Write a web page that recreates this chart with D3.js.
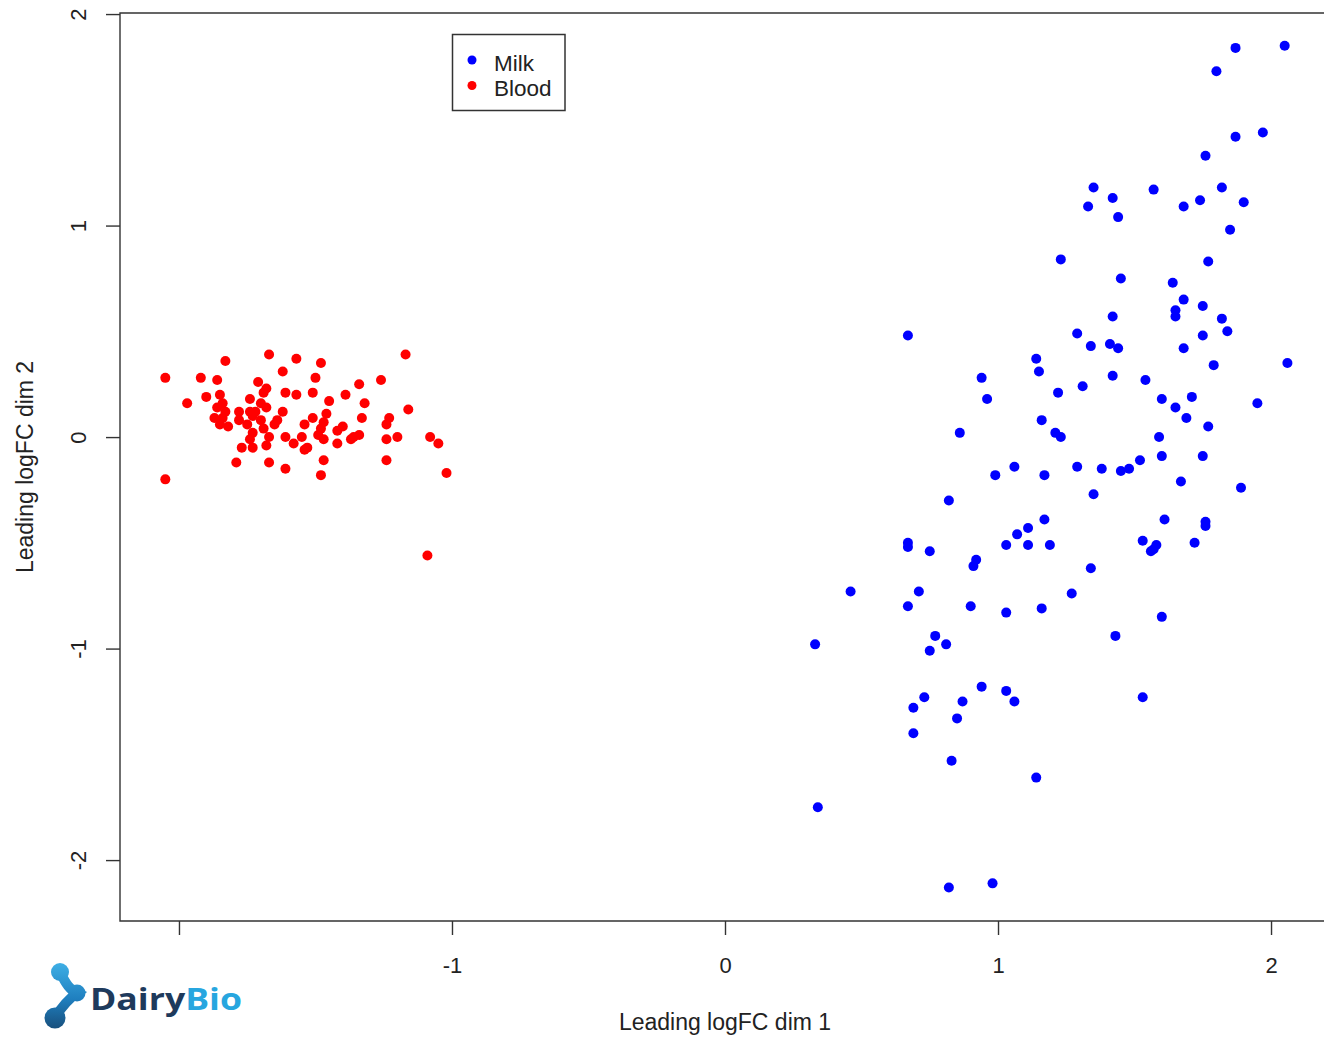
<!DOCTYPE html>
<html lang="en">
<head>
<meta charset="UTF-8">
<title>MDS plot</title>
<script src="https://cdn.jsdelivr.net/npm/d3@7"></script>
<style>
    body { margin: 0; background: #fff; }
    svg { display: block; font-family: "Liberation Sans", Arial, sans-serif; }
</style>
</head>
<body>
<script>
// size of the page
var w = 1324;
var h = 1037;

// tick values
var xTicks = [-2, -1, 0, 1, 2];
var yTicks = [-2, -1, 0, 1, 2];

// legend
var groups = ["Milk", "Blood"];
var groupColors = ["#0000ff", "#ff0000"];

// [dim 1, dim 2]
var milkPoints = [
    [0.67,0.48],[1.14,0.37],[1.15,0.31],[0.94,0.28],[0.96,0.18],[1.22,0.21],[0.86,0.02],[1.16,0.08],
    [1.21,0.02],[1.06,-0.14],[0.99,-0.18],[1.17,-0.18],[0.82,-0.30],[1.17,-0.39],[1.11,-0.43],[1.07,-0.46],
    [0.67,-0.50],[0.67,-0.52],[0.75,-0.54],[1.03,-0.51],[1.11,-0.51],[1.19,-0.51],[0.92,-0.58],[0.91,-0.61],
    [0.46,-0.73],[0.71,-0.73],[0.67,-0.80],[0.90,-0.80],[1.03,-0.83],[1.16,-0.81],
    [1.35,1.18],[1.42,1.13],[1.33,1.09],[1.44,1.04],[1.57,1.17],[1.68,1.09],[1.74,1.12],[1.82,1.18],
    [1.90,1.11],[1.85,0.98],[1.23,0.84],[1.77,0.83],[1.45,0.75],[1.64,0.73],[1.68,0.65],[1.65,0.60],
    [1.65,0.57],[1.75,0.62],[1.82,0.56],[1.84,0.50],[1.42,0.57],[1.29,0.49],[1.34,0.43],[1.41,0.44],
    [1.44,0.42],[1.75,0.48],[1.68,0.42],[1.79,0.34],[2.06,0.35],[1.42,0.29],[1.31,0.24],[1.54,0.27],
    [1.60,0.18],[1.71,0.19],[1.65,0.14],[1.95,0.16],[1.69,0.09],[1.77,0.05],[1.23,0.00],[1.59,0.00],
    [1.29,-0.14],[1.38,-0.15],[1.45,-0.16],[1.48,-0.15],[1.52,-0.11],[1.60,-0.09],[1.75,-0.09],[1.67,-0.21],
    [1.89,-0.24],[1.35,-0.27],[1.61,-0.39],[1.76,-0.40],[1.76,-0.42],[1.53,-0.49],[1.58,-0.51],[1.57,-0.53],
    [1.56,-0.54],[1.72,-0.50],[1.34,-0.62],[1.27,-0.74],[1.60,-0.85],[1.43,-0.94],
    [0.33,-0.98],[0.77,-0.94],[0.81,-0.98],[0.75,-1.01],[0.94,-1.18],[1.03,-1.20],[1.06,-1.25],[0.73,-1.23],
    [0.69,-1.28],[0.87,-1.25],[0.85,-1.33],[0.69,-1.40],[0.83,-1.53],[1.14,-1.61],[0.34,-1.75],[0.82,-2.13],
    [0.98,-2.11],[1.53,-1.23],
    [1.87,1.84],[2.05,1.85],[1.80,1.73],[1.97,1.44],[1.87,1.42],[1.76,1.33]
];

var bloodPoints = [
    [-2.05,0.28],[-2.05,-0.20],[-1.97,0.16],[-1.92,0.28],[-1.86,0.27],[-1.83,0.36],[-1.90,0.19],[-1.85,0.20],
    [-1.84,0.16],[-1.86,0.14],[-1.83,0.12],[-1.87,0.09],[-1.85,0.06],[-1.82,0.05],[-1.84,0.09],[-1.78,0.12],
    [-1.78,0.08],[-1.77,-0.05],[-1.79,-0.12],[-1.74,0.18],[-1.71,0.26],[-1.67,0.39],[-1.68,0.23],[-1.69,0.21],
    [-1.74,0.12],[-1.73,0.10],[-1.75,0.06],[-1.73,0.02],[-1.74,-0.01],[-1.73,-0.05],[-1.70,0.16],[-1.68,0.14],
    [-1.72,0.12],[-1.70,0.08],[-1.69,0.04],[-1.67,0.00],[-1.68,-0.04],[-1.67,-0.12],[-1.65,0.06],[-1.64,0.08],
    [-1.62,0.31],[-1.61,0.21],[-1.62,0.12],[-1.61,0.00],[-1.61,-0.15],[-1.57,0.37],[-1.57,0.20],[-1.54,0.06],
    [-1.55,0.00],[-1.58,-0.03],[-1.54,-0.06],[-1.53,-0.05],[-1.51,0.09],[-1.51,0.21],[-1.50,0.28],[-1.48,0.35],
    [-1.48,-0.18],[-1.47,-0.11],[-1.46,0.11],[-1.47,0.07],[-1.48,0.04],[-1.49,0.01],[-1.47,-0.01],[-1.45,0.17],
    [-1.42,-0.03],[-1.42,0.03],[-1.40,0.05],[-1.39,0.20],[-1.37,-0.01],[-1.36,0.00],[-1.34,0.01],[-1.34,0.25],
    [-1.33,0.09],[-1.32,0.16],[-1.26,0.27],[-1.23,0.09],[-1.24,0.06],[-1.24,-0.01],[-1.24,-0.11],[-1.20,0.00],
    [-1.17,0.39],[-1.16,0.13],[-1.08,0.00],[-1.05,-0.03],[-1.02,-0.17],[-1.09,-0.56]
];

// plot region (right edge runs past the page, like the original)
var plotLeft = 120, plotTop = 13, plotBottom = 921, plotRight = 1330;

var xScale = d3.scaleLinear()
    .domain([-2.216, 2.216])
    .range([plotLeft, plotRight]);

var yScale = d3.scaleLinear()
    .domain([-2.288, 2.005])
    .range([plotBottom, plotTop]);

var svg = d3.select("body")
    .append("svg")
    .attr("width", w)
    .attr("height", h);

// points
var series = [bloodPoints, milkPoints];
var seriesColors = [groupColors[1], groupColors[0]];
series.forEach(function(pts, i) {
    svg.append("g")
        .selectAll("circle")
        .data(pts)
        .enter()
        .append("circle")
        .attr("cx", function(d) { return xScale(d[0]); })
        .attr("cy", function(d) { return yScale(d[1]); })
        .attr("r", 5)
        .attr("fill", seriesColors[i]);
});

// box: top, left and bottom only, the right side is off the page
svg.append("path")
    .attr("d", "M" + (w + 5) + "," + plotTop + "H" + plotLeft + "V" + plotBottom + "H" + (w + 5))
    .attr("fill", "none")
    .attr("stroke", "#333")
    .attr("stroke-width", 1.4);

// x axis
var xAxis = svg.append("g")
    .attr("transform", "translate(0," + plotBottom + ")")
    .call(d3.axisBottom(xScale).tickValues(xTicks).tickSize(14).tickPadding(22));
xAxis.select(".domain").remove();
xAxis.selectAll("line").attr("stroke", "#333").attr("stroke-width", 1.4);
xAxis.selectAll("text")
    .attr("font-family", "Liberation Sans, Arial, sans-serif")
    .attr("font-size", "22px")
    .attr("fill", "#222")
    .text(function(d) { return d < 0 ? "-" + Math.abs(d) : d; });

// y axis, labels turned like R's default
var yAxis = svg.append("g")
    .attr("transform", "translate(" + plotLeft + ",0)")
    .call(d3.axisLeft(yScale).tickValues(yTicks).tickSize(14));
yAxis.select(".domain").remove();
yAxis.selectAll("line").attr("stroke", "#333").attr("stroke-width", 1.4);
yAxis.selectAll("text")
    .attr("x", null)
    .attr("dy", null)
    .attr("text-anchor", "middle")
    .attr("transform", "translate(-34,0) rotate(-90)")
    .attr("font-family", "Liberation Sans, Arial, sans-serif")
    .attr("font-size", "22px")
    .attr("fill", "#222")
    .text(function(d) { return d < 0 ? "-" + Math.abs(d) : d; });

// axis titles
svg.append("text")
    .attr("x", (plotLeft + plotRight) / 2)
    .attr("y", 1030)
    .attr("text-anchor", "middle")
    .attr("font-size", "23px")
    .attr("fill", "#222")
    .text("Leading logFC dim 1");

svg.append("text")
    .attr("transform", "translate(33," + (plotTop + plotBottom) / 2 + ") rotate(-90)")
    .attr("text-anchor", "middle")
    .attr("font-size", "23px")
    .attr("fill", "#222")
    .text("Leading logFC dim 2");

// legend
var legend = svg.append("g");
legend.append("rect")
    .attr("x", 452.5)
    .attr("y", 34.5)
    .attr("width", 112.5)
    .attr("height", 76)
    .attr("fill", "#fff")
    .attr("stroke", "#333")
    .attr("stroke-width", 1.5);

var items = legend.selectAll("g.item")
    .data(groups)
    .enter()
    .append("g")
    .attr("class", "item")
    .attr("transform", function(d, i) { return "translate(472," + (60 + i * 25.5) + ")"; });
items.append("circle")
    .attr("r", 4.5)
    .attr("fill", function(d, i) { return groupColors[i]; });
items.append("text")
    .attr("x", 22)
    .attr("y", 10.5)
    .attr("font-size", "22.5px")
    .attr("fill", "#222")
    .text(function(d) { return d; });

// DairyBio logo (sits on a white patch, hides the -2 label like the original)
var logo = svg.append("g");
logo.append("rect")
    .attr("x", 36).attr("y", 946)
    .attr("width", 220).attr("height", 88)
    .attr("fill", "#fff");

var defs = svg.append("defs");
var grad = defs.append("linearGradient")
    .attr("id", "logoGrad")
    .attr("gradientUnits", "userSpaceOnUse")
    .attr("x1", 0).attr("y1", 962).attr("x2", 0).attr("y2", 1029);
grad.append("stop").attr("offset", "0%").attr("stop-color", "#3fb0e6");
grad.append("stop").attr("offset", "55%").attr("stop-color", "#1f7fbf");
grad.append("stop").attr("offset", "100%").attr("stop-color", "#184f7c");

var icon = logo.append("g").attr("fill", "url(#logoGrad)");
icon.append("path")
    .attr("d", "M60,972 C66,984 70,990 77,993 C70,998 62,1006 55,1018")
    .attr("fill", "none")
    .attr("stroke", "url(#logoGrad)")
    .attr("stroke-width", 10)
    .attr("stroke-linecap", "round");
icon.append("circle").attr("cx", 60).attr("cy", 972).attr("r", 9);
icon.append("circle").attr("cx", 77).attr("cy", 993).attr("r", 8.5);
icon.append("circle").attr("cx", 55).attr("cy", 1018).attr("r", 10.5);

var logoText = logo.append("text")
    .attr("x", 90)
    .attr("y", 1010)
    .attr("font-family", "Open Sans, Roboto, sans-serif")
    .attr("font-weight", 700)
    .attr("font-size", "31px")
    .attr("textLength", 152)
    .attr("lengthAdjust", "spacingAndGlyphs");
logoText.append("tspan").attr("fill", "#1e3a5c").text("Dairy");
logoText.append("tspan").attr("fill", "#27a6df").text("Bio");
</script>
</body>
</html>
